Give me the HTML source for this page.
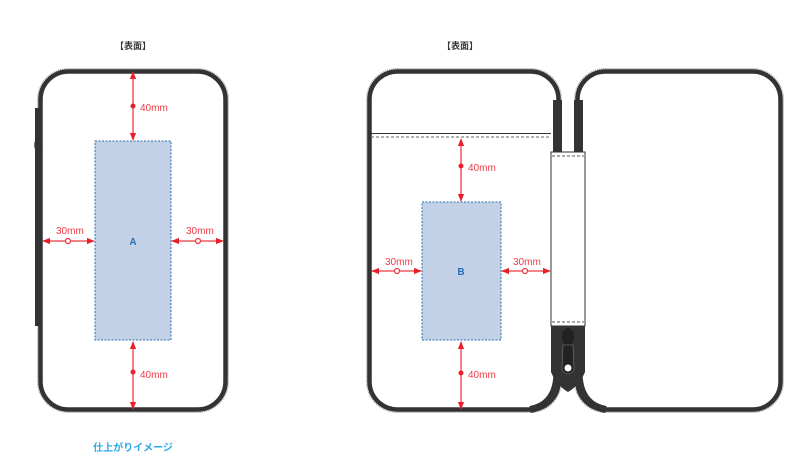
<!DOCTYPE html>
<html><head><meta charset="utf-8"><style>
html,body{margin:0;padding:0;background:#fff;}
svg{display:block;}
text{font-family:"Liberation Sans","Noto Sans CJK JP",sans-serif;}
</style></head><body>
<svg width="800" height="465" viewBox="0 0 800 465" xmlns="http://www.w3.org/2000/svg">
<defs>
<marker id="ah" viewBox="0 0 10 10" refX="9" refY="5" markerWidth="6" markerHeight="6" orient="auto-start-reverse"><path d="M0,1 L10,5 L0,9 z" fill="#e8202a"/></marker>
</defs>
<text x="133" y="49" font-size="9" font-weight="bold" fill="#333" text-anchor="middle">【表面】</text>
<text x="460" y="49" font-size="9" font-weight="bold" fill="#333" text-anchor="middle">【表面】</text>
<text x="133" y="451" font-size="10" font-weight="bold" fill="#29a9e8" text-anchor="middle">仕上がりイメージ</text>

<!-- left case -->
<rect x="38.5" y="69.5" width="189" height="342" rx="30" fill="#fff" stroke="#999" stroke-width="3" stroke-dasharray="1 1"/>
<rect x="40.5" y="71.5" width="185" height="338" rx="28" fill="#fff" stroke="#333" stroke-width="4.5"/>
<rect x="35" y="108" width="6" height="218" fill="#333"/>
<ellipse cx="38" cy="145" rx="3" ry="6" fill="none" stroke="#333" stroke-width="1.5"/>
<rect x="95" y="141" width="76" height="199" fill="#c3d1e6" stroke="#2a6fb3" stroke-width="1" stroke-dasharray="2 1.5"/>
<text x="133" y="245" font-size="10" font-weight="bold" fill="#2a6fb3" text-anchor="middle">A</text>

<g stroke="#ef3a44" stroke-width="1.3" fill="none">
<line x1="133" y1="72" x2="133" y2="140" marker-start="url(#ah)" marker-end="url(#ah)"/>
<line x1="133" y1="342" x2="133" y2="409" marker-start="url(#ah)" marker-end="url(#ah)"/>
<line x1="43" y1="241" x2="94" y2="241" marker-start="url(#ah)" marker-end="url(#ah)"/>
<line x1="172" y1="241" x2="223" y2="241" marker-start="url(#ah)" marker-end="url(#ah)"/>
<circle cx="68" cy="241" r="2.5" fill="#fff"/>
<circle cx="198" cy="241" r="2.5" fill="#fff"/>
</g>
<circle cx="133" cy="106" r="2.5" fill="#e8202a"/>
<circle cx="133" cy="372" r="2.5" fill="#e8202a"/>
<g font-size="10" fill="#ef3a44">
<text x="140" y="111">40mm</text>
<text x="140" y="378">40mm</text>
<text x="56" y="234">30mm</text>
<text x="186" y="234">30mm</text>
</g>

<!-- right open case -->
<rect x="367.5" y="69.5" width="193" height="342" rx="30" fill="#fff" stroke="#999" stroke-width="3" stroke-dasharray="1 1"/>
<rect x="369.5" y="71.5" width="189" height="338" rx="28" fill="#fff" stroke="#333" stroke-width="4.5"/>
<rect x="575.5" y="69.5" width="207" height="342" rx="30" fill="#fff" stroke="#999" stroke-width="3" stroke-dasharray="1 1"/>
<rect x="577.5" y="71.5" width="203" height="338" rx="28" fill="#fff" stroke="#333" stroke-width="4.5"/>
<rect x="553" y="100" width="9" height="53" fill="#333"/>
<rect x="574" y="100" width="9" height="53" fill="#333"/>
<path d="M551,320 L585,320 L585,372 Q580,385 568,392 Q556,385 551,372 Z" fill="#333"/>
<path d="M557,372 Q557,405 530,409.5" fill="none" stroke="#333" stroke-width="7"/>
<path d="M579,372 Q579,405 606,409.5" fill="none" stroke="#333" stroke-width="7"/>
<path d="M551,152 L585,152 L585,326 L551,326 Z" fill="#fff" stroke="#333" stroke-width="1"/>
<line x1="552" y1="156" x2="584" y2="156" stroke="#555" stroke-dasharray="3 2"/>
<line x1="552" y1="322" x2="584" y2="322" stroke="#555" stroke-dasharray="3 2"/>
<ellipse cx="568" cy="337" rx="6" ry="9" fill="#222"/>
<path d="M563,345 L573,345 L574,370 Q568,378 562,370 Z" fill="#222" stroke="#777" stroke-width="0.6"/>
<circle cx="568" cy="368" r="3.5" fill="#fff"/>
<line x1="371" y1="133.5" x2="551" y2="133.5" stroke="#333" stroke-width="1"/>
<line x1="371" y1="137" x2="551" y2="137" stroke="#666" stroke-dasharray="3 2"/>
<rect x="422" y="202" width="79" height="138" fill="#c3d1e6" stroke="#2a6fb3" stroke-width="1" stroke-dasharray="2 1.5"/>
<text x="461" y="275" font-size="10" font-weight="bold" fill="#2a6fb3" text-anchor="middle">B</text>

<g stroke="#ef3a44" stroke-width="1.3" fill="none">
<line x1="461" y1="139" x2="461" y2="201" marker-start="url(#ah)" marker-end="url(#ah)"/>
<line x1="461" y1="342" x2="461" y2="409" marker-start="url(#ah)" marker-end="url(#ah)"/>
<line x1="372" y1="271" x2="421" y2="271" marker-start="url(#ah)" marker-end="url(#ah)"/>
<line x1="502" y1="271" x2="550" y2="271" marker-start="url(#ah)" marker-end="url(#ah)"/>
<circle cx="397" cy="271" r="2.5" fill="#fff"/>
<circle cx="525" cy="271" r="2.5" fill="#fff"/>
</g>
<circle cx="461" cy="166" r="2.5" fill="#e8202a"/>
<circle cx="461" cy="373" r="2.5" fill="#e8202a"/>
<g font-size="10" fill="#ef3a44">
<text x="468" y="171">40mm</text>
<text x="468" y="378">40mm</text>
<text x="385" y="265">30mm</text>
<text x="513" y="265">30mm</text>
</g>
</svg>
</body></html>
